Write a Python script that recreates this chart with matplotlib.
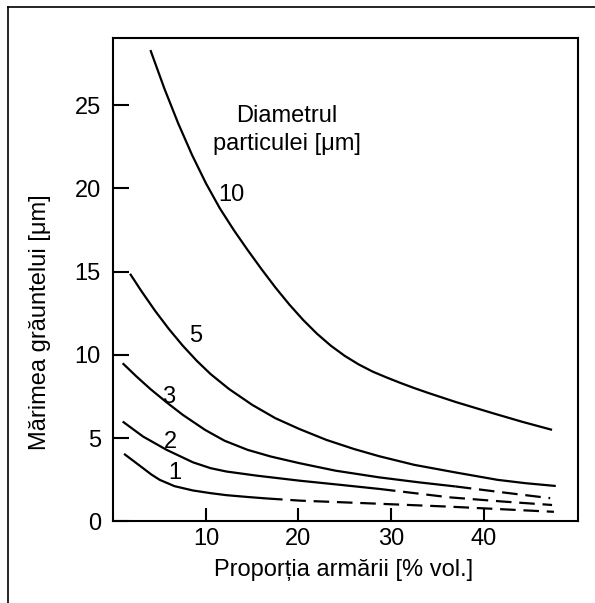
import matplotlib
matplotlib.use('Agg')
import matplotlib.pyplot as plt
from matplotlib.lines import Line2D

plt.rcParams['font.family'] = ['Liberation Sans', 'DejaVu Sans']

# curves: solid part, then dashed part where there is one
x10 = [4.0, 5.5, 7.0, 8.5, 10.0, 11.5, 13.0, 14.5, 16.0, 17.5, 19.0, 20.5, 22.0, 23.5, 25.0, 26.5,
       28.0, 29.5, 31.0, 32.5, 34.0, 37.0, 41.0, 44.2, 47.4]
y10 = [28.3, 26.0, 23.9, 22.0, 20.3, 18.8, 17.5, 16.3, 15.15, 14.05, 13.03, 12.1, 11.27, 10.55, 9.94, 9.43,
       9.0, 8.65, 8.32, 8.01, 7.72, 7.17, 6.5, 5.98, 5.5]

x5 = [1.8, 3.0, 4.5, 6.0, 7.5, 9.0, 10.5, 12.5, 15.0, 17.5, 20.1, 23.0, 26.0, 28.7, 32.5, 36.9, 41.5, 44.5, 47.8]
y5 = [14.87, 13.85, 12.65, 11.55, 10.55, 9.65, 8.85, 7.95, 7.0, 6.2, 5.55, 4.9, 4.35, 3.92, 3.4, 2.95, 2.5, 2.3, 2.13]

x3 = [1.0, 2.5, 4.0, 5.75, 7.5, 9.9, 12.0, 14.5, 17.0, 20.1, 24.0, 28.7, 33.0, 37.0]
y3 = [9.5, 8.7, 7.95, 7.15, 6.4, 5.5, 4.85, 4.3, 3.9, 3.5, 3.05, 2.65, 2.35, 2.1]
x3d = [37.0, 42.0, 47.2]
y3d = [2.1, 1.75, 1.4]

x2 = [1.0, 3.2, 5.75, 8.6, 10.5, 12.2, 15.5, 20.1, 24.5, 28.8]
y2 = [6.0, 5.1, 4.3, 3.55, 3.2, 3.0, 2.75, 2.45, 2.2, 1.95]
x2d = [28.8, 36.3, 42.0, 47.4]
y2d = [1.95, 1.45, 1.2, 0.99]

x1 = [1.15, 2.2, 3.2, 4.1, 5.0, 6.6, 8.6, 10.5, 12.2, 14.5, 16.6]
y1 = [4.06, 3.62, 3.2, 2.82, 2.5, 2.12, 1.86, 1.7, 1.58, 1.47, 1.38]
x1d = [16.6, 20.2, 28.0, 36.3, 47.6]
y1d = [1.38, 1.25, 1.08, 0.89, 0.58]

curve_labels = ['10', '5', '3', '2', '1']
label_x = [12.75, 8.9, 6.0, 6.2, 6.65]
label_y = [19.6, 11.15, 7.45, 4.8, 2.9]

xticks = [10, 20, 30, 40]
yticks = [0, 5, 10, 15, 20, 25]

fs = 17

fig = plt.figure(figsize=(5.95, 6.03), dpi=100)
ax = fig.add_axes([0.1906, 0.1352, 0.7808, 0.8011])

lw = 1.6
dash = (0, (7, 3.5))
for xs, ys in [(x10, y10), (x5, y5), (x3, y3), (x2, y2), (x1, y1)]:
	ax.plot(xs, ys, color='black', lw=lw, solid_capstyle='butt', solid_joinstyle='round')
for xs, ys in [(x3d, y3d), (x2d, y2d), (x1d, y1d)]:
	ax.plot(xs, ys, color='black', lw=lw, linestyle=dash)

for t, lx, ly in zip(curve_labels, label_x, label_y):
	ax.text(lx, ly, t, fontsize=fs, ha='center', va='center')

ax.text(18.7, 23.5, 'Diametrul\nparticulei [μm]', fontsize=fs, ha='center', va='center', linespacing=1.3)

ax.set_xlim(0, 50.2)
ax.set_ylim(0, 29.0)
ax.set_xticks(xticks)
ax.set_yticks(yticks)
ax.tick_params(axis='x', direction='in', length=9.5, width=1.5, labelsize=fs, pad=5)
ax.tick_params(axis='y', direction='in', length=11.5, width=1.5, labelsize=fs, pad=9)
for s in ax.spines.values():
	s.set_linewidth(1.5)

ax.set_xlabel('Proporția armării [% vol.]', fontsize=fs)
ax.xaxis.set_label_coords(0.495, -0.078)
ax.set_ylabel('Mărimea grăuntelui [μm]', fontsize=fs)
ax.yaxis.set_label_coords(-0.134, 0.413)

# outer frame (only top and left edge visible)
fig.add_artist(Line2D([0.0128, 1.0], [0.989, 0.989], transform=fig.transFigure, color='black', lw=1.2))
fig.add_artist(Line2D([0.0128, 0.0128], [0.0, 0.989], transform=fig.transFigure, color='black', lw=1.2))

fig.savefig('out.png', dpi=100)
